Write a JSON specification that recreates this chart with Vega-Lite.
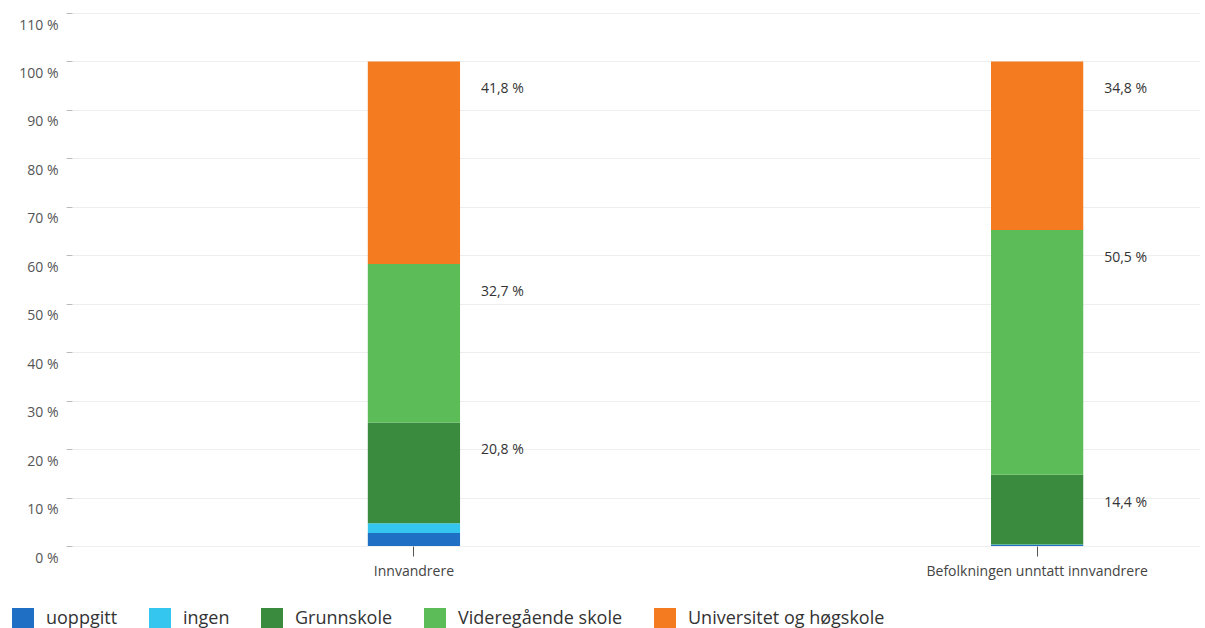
{
  "$schema": "https://vega.github.io/schema/vega-lite/v6.json",
  "width": 1128,
  "height": 533,
  "padding": {"left": 72, "top": 13, "right": 5, "bottom": 82},
  "autosize": {"type": "none"},
  "background": "white",
  "config": {
    "view": {"stroke": null},
    "font": "Open Sans"
  },
  "data": {
    "values": [
      {"gruppe": "Innvandrere", "utdanning": "uoppgitt", "idx": 1, "andel": 2.7},
      {"gruppe": "Innvandrere", "utdanning": "ingen", "idx": 2, "andel": 2.0},
      {"gruppe": "Innvandrere", "utdanning": "Grunnskole", "idx": 3, "andel": 20.8},
      {"gruppe": "Innvandrere", "utdanning": "Videregående skole", "idx": 4, "andel": 32.7},
      {"gruppe": "Innvandrere", "utdanning": "Universitet og høgskole", "idx": 5, "andel": 41.8},
      {"gruppe": "Befolkningen unntatt innvandrere", "utdanning": "uoppgitt", "idx": 1, "andel": 0.2},
      {"gruppe": "Befolkningen unntatt innvandrere", "utdanning": "ingen", "idx": 2, "andel": 0.1},
      {"gruppe": "Befolkningen unntatt innvandrere", "utdanning": "Grunnskole", "idx": 3, "andel": 14.4},
      {"gruppe": "Befolkningen unntatt innvandrere", "utdanning": "Videregående skole", "idx": 4, "andel": 50.5},
      {"gruppe": "Befolkningen unntatt innvandrere", "utdanning": "Universitet og høgskole", "idx": 5, "andel": 34.8}
    ]
  },
  "transform": [
    {"stack": "andel", "groupby": ["gruppe"], "sort": [{"field": "idx", "order": "ascending"}], "as": ["y0", "y1"]},
    {"calculate": "replace(format(datum.andel, '.1f'), '.', ',') + ' %'", "as": "etikett"}
  ],
  "encoding": {
    "x": {
      "field": "gruppe",
      "type": "nominal",
      "sort": ["Innvandrere", "Befolkningen unntatt innvandrere"],
      "scale": {"paddingInner": 0.852, "paddingOuter": 0.331, "align": 0.717},
      "axis": {
        "title": null,
        "labelAngle": 0,
        "labelFontSize": 14,
        "labelColor": "#444",
        "labelPadding": 8,
        "labelLimit": 0,
        "tickColor": "#555",
        "tickSize": 10,
        "domain": false
      }
    }
  },
  "layer": [
    {
      "mark": {"type": "bar"},
      "encoding": {
        "y": {
          "field": "y0",
          "type": "quantitative",
          "scale": {"domain": [0, 110], "nice": false},
          "axis": {
            "title": null,
            "values": [0, 10, 20, 30, 40, 50, 60, 70, 80, 90, 100, 110],
            "labelExpr": "datum.value + ' %'",
            "labelFontSize": 14,
            "labelColor": "#555",
            "labelPadding": 8,
            "labelOffset": 12,
            "tickColor": "#bbb",
            "tickSize": 6,
            "domain": false,
            "gridColor": "#eeeeee"
          }
        },
        "y2": {"field": "y1"},
        "color": {
          "field": "utdanning",
          "type": "nominal",
          "scale": {
            "domain": ["uoppgitt", "ingen", "Grunnskole", "Videregående skole", "Universitet og høgskole"],
            "range": ["#1f6fc4", "#35c6ef", "#3b8b3f", "#5cbd58", "#f47b20"]
          },
          "legend": {
            "title": null,
            "orient": "none",
            "direction": "horizontal",
            "legendX": -60,
            "legendY": 595,
            "symbolType": "square",
            "symbolSize": 484,
            "symbolStrokeWidth": 0,
            "symbolOpacity": 1,
            "labelFontSize": 18,
            "labelLimit": 0,
            "labelColor": "#333",
            "labelOffset": 12,
            "columnPadding": 31
          }
        }
      }
    },
    {
      "transform": [{"filter": "datum.idx >= 3"}],
      "mark": {"type": "text", "align": "left", "baseline": "middle", "dx": 67, "dy": 28, "fontSize": 14, "color": "#333"},
      "encoding": {
        "y": {"field": "y1", "type": "quantitative"},
        "text": {"field": "etikett"}
      }
    }
  ]
}
